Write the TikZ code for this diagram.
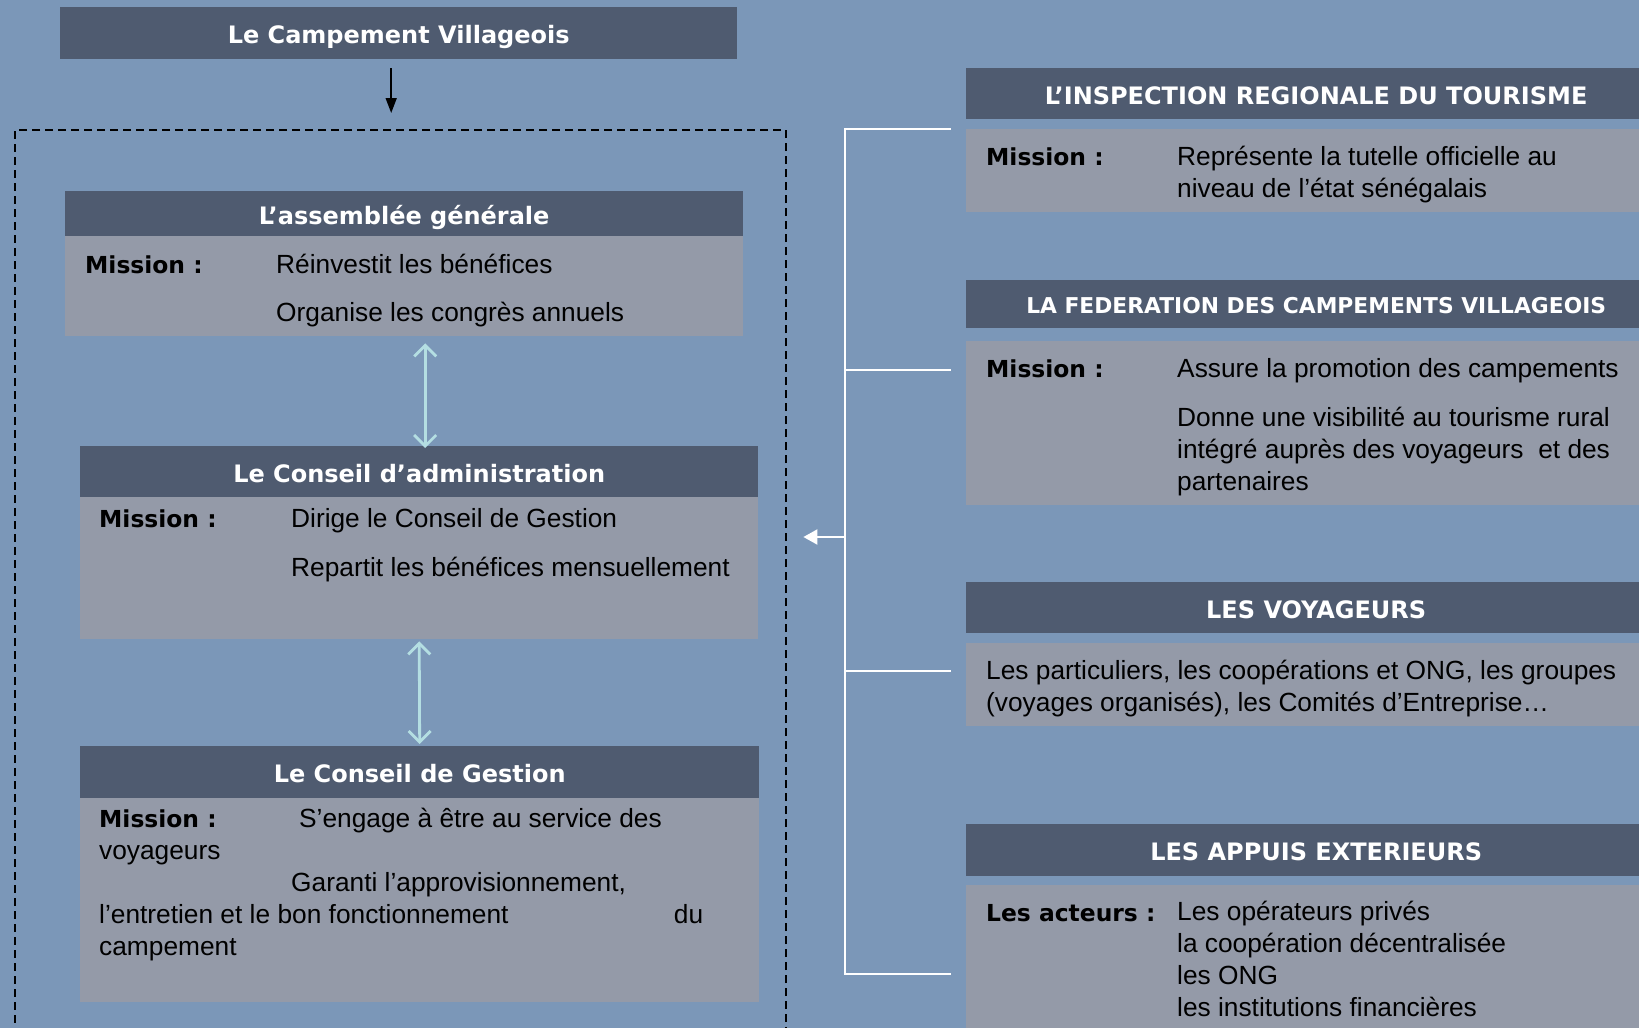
\documentclass[tikz,border=0pt]{standalone}
\usepackage{fontspec}
\setmainfont{Liberation Sans}
\newfontfamily\headfont{DejaVu Sans}
\usepackage{tikz}
\usetikzlibrary{arrows.meta}
\definecolor{bgc}{RGB}{123,151,184}
\definecolor{headc}{RGB}{79,91,112}
\definecolor{bodyc}{RGB}{148,154,168}
\definecolor{arrc}{RGB}{180,222,226}

\begin{document}
\begin{tikzpicture}[x=1pt, y=-1pt,
  head/.style={fill=headc, text=white, anchor=north west, inner sep=0pt, text height=21pt, text depth=0pt, font=\headfont\bfseries\fontsize{24}{28}\selectfont},
  body/.style={fill=bodyc, anchor=north west, inner sep=0pt},
  lbl/.style={anchor=base west, inner sep=0pt, font=\headfont\bfseries\fontsize{23.4}{28}\selectfont},
  txt/.style={anchor=base west, inner sep=0pt, align=left, font=\fontsize{26.3}{31.8}\selectfont},
  frame/.style={draw, line width=2.4pt, dash pattern=on 8pt off 5pt, anchor=north west, inner sep=0pt},
  dbl/.style={{Straight Barb[length=11pt, width=22pt]}-{Straight Barb[length=11pt, width=22pt]}, arrc, line width=2.8pt},
  wl/.style={white, line width=2pt}]
  \useasboundingbox (0,0) rectangle (1639,1028);
  \clip (0,0) rectangle (1639,1028);
  \fill[bgc] (0,0) rectangle (1639,1028);

  % nodes, left
  \node[head, minimum width=677pt, minimum height=52pt] (camp) at (60,7) {Le Campement Villageois};
  \node[frame, minimum width=771pt, minimum height=940pt] (frame) at (14,129) {};

  \node[head, minimum width=678pt, minimum height=45pt] (aghead) at (65,191) {L’assemblée générale};
  \node[body, minimum width=678pt, minimum height=100pt] (agbody) at (65,236) {};
  \node[lbl] (agmis) at (85,273) {Mission :};
  \node[txt] (agt1) at (276,273) {Réinvestit les bénéfices};
  \node[txt] (agt2) at (276,321) {Organise les congrès annuels};

  \node[head, minimum width=678pt, minimum height=51pt] (cahead) at (80,446) {Le Conseil d’administration};
  \node[body, minimum width=678pt, minimum height=142pt] (cabody) at (80,497) {};
  \node[lbl] (camis) at (99,527) {Mission :};
  \node[txt] (cat1) at (291,527) {Dirige le Conseil de Gestion};
  \node[txt] (cat2) at (291,576) {Repartit les bénéfices mensuellement};

  \node[head, minimum width=679pt, minimum height=52pt] (cghead) at (80,746) {Le Conseil de Gestion};
  \node[body, minimum width=679pt, minimum height=204pt] (cgbody) at (80,798) {};
  \node[lbl] (cgmis) at (99,827) {Mission :};
  \node[txt] (cgt1) at (299,827) {S’engage à être au service des};
  % base anchor of a multi-line node = last line
  \node[txt] (cgt2) at (99,955) {voyageurs\\
    \hspace*{192pt}Garanti l’approvisionnement,\\
    \makebox[604pt][l]{l’entretien et le bon fonctionnement\hfill du}\\
    campement};

  % nodes, right
  \node[head, minimum width=700pt, minimum height=51pt] (irhead) at (966,68) {L’INSPECTION REGIONALE DU TOURISME};
  \node[body, minimum width=700pt, minimum height=83pt] (irbody) at (966,129) {};
  \node[lbl] (irmis) at (986,165) {Mission :};
  \node[txt] (irt) at (1177,197.5) {Représente la tutelle officielle au\\ niveau de l’état sénégalais};

  \node[head, minimum width=700pt, minimum height=48pt, text height=19.5pt, font=\headfont\bfseries\fontsize{21.8}{26}\selectfont] (fdhead) at (966,280) {LA FEDERATION DES CAMPEMENTS VILLAGEOIS};
  \node[body, minimum width=700pt, minimum height=164pt] (fdbody) at (966,341) {};
  \node[lbl] (fdmis) at (986,377.5) {Mission :};
  \node[txt] (fdt1) at (1177,377.5) {Assure la promotion des campements};
  \node[txt] (fdt2) at (1177,490) {Donne une visibilité au tourisme rural\\ intégré auprès des voyageurs\ \ et des\\ partenaires};

  \node[head, minimum width=700pt, minimum height=51pt] (vghead) at (966,582) {LES VOYAGEURS};
  \node[body, minimum width=700pt, minimum height=83pt] (vgbody) at (966,643) {};
  \node[txt] (vgt) at (986,711) {Les particuliers, les coopérations et ONG, les groupes\\ (voyages organisés), les Comités d’Entreprise…};

  \node[head, minimum width=700pt, minimum height=52pt] (aehead) at (966,824) {LES APPUIS EXTERIEURS};
  \node[body, minimum width=700pt, minimum height=200pt] (aebody) at (966,885) {};
  \node[lbl] (aemis) at (986,921) {Les acteurs :};
  \node[txt] (aet) at (1177,1016) {Les opérateurs privés\\ la coopération décentralisée\\ les ONG\\ les institutions financières};

  % edges
  \draw[-{Triangle[length=15pt, width=11pt]}, line width=1.6pt, shorten <=9pt, shorten >=16pt]
    ([xshift=-7.5pt]camp.south) -- ([xshift=-7.5pt]camp.south |- frame.north);
  \draw[dbl, shorten <=7pt, shorten >=-2pt] ([xshift=6pt]cahead.north |- agbody.south) -- ([xshift=6pt]cahead.north);
  \draw[dbl, shorten <=2pt, shorten >=2pt] (cabody.south) -- (cghead.north);

  \coordinate (j1) at (845,129);
  \coordinate (j2) at (845,370);
  \coordinate (j3) at (845,671);
  \coordinate (j4) at (845,974);
  \coordinate (jm) at (845,537);
  \draw[wl] ([xshift=-15pt]irbody.west |- j1) -- (j1) -- (j4) -- ([xshift=-15pt]aebody.west |- j4);
  \draw[wl] (j2) -- ([xshift=-15pt]fdbody.west |- j2);
  \draw[wl] (j3) -- ([xshift=-15pt]vgbody.west |- j3);
  \draw[wl, -{Triangle[length=14pt, width=15pt]}] (jm) -- ([xshift=16pt]frame.east |- jm);
\end{tikzpicture}
\end{document}
